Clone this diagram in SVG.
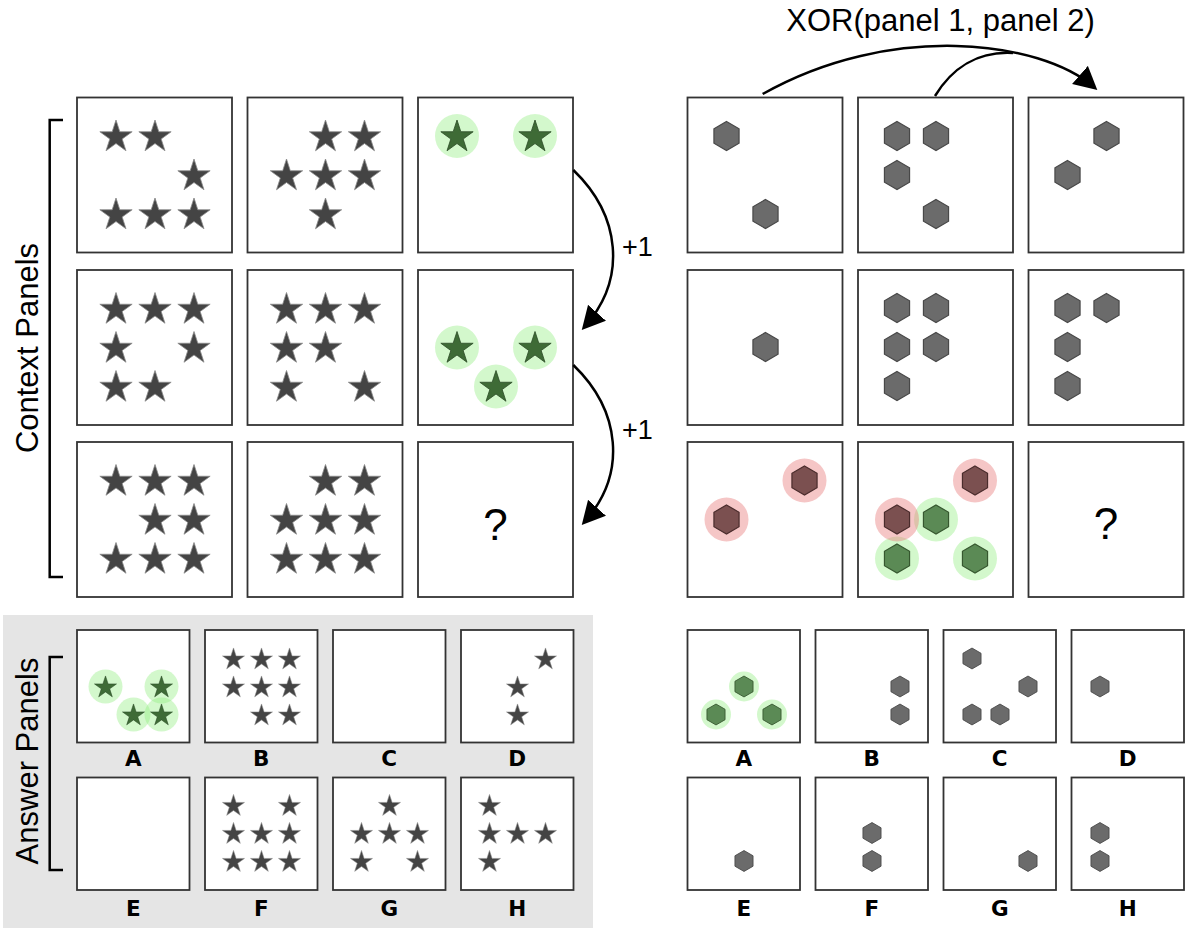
<svg xmlns="http://www.w3.org/2000/svg" width="1200" height="938" viewBox="0 0 1200 938">
<style>
.pn{fill:#fff;stroke:#333;stroke-width:1.8}
.st{fill:#444;stroke:#8a8a8a;stroke-width:0.8}
.gst{fill:#3e6b36;stroke:#2b4a26;stroke-width:0.8}
.hx{fill:#6b6b6b;stroke:#484848;stroke-width:1.2}
.rhx{fill:#7b5050;stroke:#4a2c2c;stroke-width:1.2}
.ghx{fill:#5b8a55;stroke:#36572f;stroke-width:1.2}
.gc{fill:#90ee80;fill-opacity:0.4}
.rc{fill:#e88080;fill-opacity:0.45}
.lbl{font-family:"DejaVu Sans","Liberation Sans",sans-serif;font-weight:bold;font-size:21.5px;fill:#000;text-anchor:middle}
.t{font-family:"Liberation Sans",Arial,sans-serif;fill:#000}
.q{font-family:"Liberation Sans",Arial,sans-serif;font-size:44px;text-anchor:middle;fill:#000}
.con{fill:none;stroke:#000;stroke-width:2.5}
.br{fill:none;stroke:#000;stroke-width:2.5}
</style>
<defs>
<path id="star" d="M0,-17 L3.82,-5.26 L16.17,-5.25 L6.18,2.01 L9.99,13.75 L0,6.5 L-9.99,13.75 L-6.18,2.01 L-16.17,-5.25 L-3.82,-5.26 Z"/>
<g id="starS" transform="scale(0.68)"><use href="#star"/></g>
<path id="hex" d="M0,-14.5 L12.56,-7.25 L12.56,7.25 L0,14.5 L-12.56,7.25 L-12.56,-7.25 Z"/>
<g id="hexS" transform="scale(0.72)"><use href="#hex"/></g>
<marker id="ah" markerUnits="userSpaceOnUse" markerWidth="26" markerHeight="26" refX="19" refY="12" orient="auto"><path d="M0,0 L23,12 L0,24 Z" fill="#000"/></marker>
</defs>

<!-- answer area background -->
<rect x="3" y="615" width="590" height="313" fill="#e5e5e5"/>

<!-- side labels and brackets -->
<g id="label-context">
<text class="t" font-size="31" text-anchor="middle" transform="translate(38.3,348) rotate(-90)">Context Panels</text>
<path class="br" d="M63,120 H49.7 V577 H63"/>
</g>
<g id="label-answer">
<text class="t" font-size="31" text-anchor="middle" transform="translate(38.3,761) rotate(-90)">Answer Panels</text>
<path class="br" d="M63,657 H49.7 V870 H63"/>
</g>

<!-- left context panels -->
<g id="L11"><rect class="pn" x="77" y="97.5" width="155" height="155"/>
<use href="#star" class="st" x="116" y="137"/><use href="#star" class="st" x="155" y="137"/><use href="#star" class="st" x="194" y="176"/>
<use href="#star" class="st" x="116" y="215"/><use href="#star" class="st" x="155" y="215"/><use href="#star" class="st" x="194" y="215"/></g>
<g id="L12"><rect class="pn" x="247.5" y="97.5" width="155" height="155"/>
<use href="#star" class="st" x="325.5" y="137"/><use href="#star" class="st" x="364.5" y="137"/>
<use href="#star" class="st" x="286.5" y="176"/><use href="#star" class="st" x="325.5" y="176"/><use href="#star" class="st" x="364.5" y="176"/>
<use href="#star" class="st" x="325.5" y="215"/></g>
<g id="L13"><rect class="pn" x="418" y="97.5" width="155" height="155"/>
<circle class="gc" cx="457" cy="136" r="22"/><circle class="gc" cx="535" cy="136" r="22"/>
<use href="#star" class="gst" x="457" y="137"/><use href="#star" class="gst" x="535" y="137"/></g>

<g id="L21"><rect class="pn" x="77" y="270" width="155" height="155"/>
<use href="#star" class="st" x="116" y="309.5"/><use href="#star" class="st" x="155" y="309.5"/><use href="#star" class="st" x="194" y="309.5"/>
<use href="#star" class="st" x="116" y="348.5"/><use href="#star" class="st" x="194" y="348.5"/>
<use href="#star" class="st" x="116" y="387.5"/><use href="#star" class="st" x="155" y="387.5"/></g>
<g id="L22"><rect class="pn" x="247.5" y="270" width="155" height="155"/>
<use href="#star" class="st" x="286.5" y="309.5"/><use href="#star" class="st" x="325.5" y="309.5"/><use href="#star" class="st" x="364.5" y="309.5"/>
<use href="#star" class="st" x="286.5" y="348.5"/><use href="#star" class="st" x="325.5" y="348.5"/>
<use href="#star" class="st" x="286.5" y="387.5"/><use href="#star" class="st" x="364.5" y="387.5"/></g>
<g id="L23"><rect class="pn" x="418" y="270" width="155" height="155"/>
<circle class="gc" cx="457" cy="347.5" r="22"/><circle class="gc" cx="535" cy="347.5" r="22"/><circle class="gc" cx="496" cy="386.5" r="22"/>
<use href="#star" class="gst" x="457" y="348.5"/><use href="#star" class="gst" x="535" y="348.5"/><use href="#star" class="gst" x="496" y="387.5"/></g>

<g id="L31"><rect class="pn" x="77" y="442" width="155" height="155"/>
<use href="#star" class="st" x="116" y="481.5"/><use href="#star" class="st" x="155" y="481.5"/><use href="#star" class="st" x="194" y="481.5"/>
<use href="#star" class="st" x="155" y="520.5"/><use href="#star" class="st" x="194" y="520.5"/>
<use href="#star" class="st" x="116" y="559.5"/><use href="#star" class="st" x="155" y="559.5"/><use href="#star" class="st" x="194" y="559.5"/></g>
<g id="L32"><rect class="pn" x="247.5" y="442" width="155" height="155"/>
<use href="#star" class="st" x="325.5" y="481.5"/><use href="#star" class="st" x="364.5" y="481.5"/>
<use href="#star" class="st" x="286.5" y="520.5"/><use href="#star" class="st" x="325.5" y="520.5"/><use href="#star" class="st" x="364.5" y="520.5"/>
<use href="#star" class="st" x="286.5" y="559.5"/><use href="#star" class="st" x="325.5" y="559.5"/><use href="#star" class="st" x="364.5" y="559.5"/></g>
<g id="L33"><rect class="pn" x="418" y="442" width="155" height="155"/>
<text class="q" x="495.5" y="540">?</text></g>

<!-- right context panels -->
<g id="R11"><rect class="pn" x="687.5" y="97.5" width="155" height="155"/>
<use href="#hex" class="hx" x="726.5" y="136"/><use href="#hex" class="hx" x="765.5" y="214"/></g>
<g id="R12"><rect class="pn" x="858" y="97.5" width="155" height="155"/>
<use href="#hex" class="hx" x="897" y="136"/><use href="#hex" class="hx" x="936" y="136"/>
<use href="#hex" class="hx" x="897" y="175"/><use href="#hex" class="hx" x="936" y="214"/></g>
<g id="R13"><rect class="pn" x="1028.5" y="97.5" width="155" height="155"/>
<use href="#hex" class="hx" x="1106.5" y="136"/><use href="#hex" class="hx" x="1067.5" y="175"/></g>

<g id="R21"><rect class="pn" x="687.5" y="270" width="155" height="155"/>
<use href="#hex" class="hx" x="765.5" y="347"/></g>
<g id="R22"><rect class="pn" x="858" y="270" width="155" height="155"/>
<use href="#hex" class="hx" x="897" y="308"/><use href="#hex" class="hx" x="936" y="308"/>
<use href="#hex" class="hx" x="897" y="347"/><use href="#hex" class="hx" x="936" y="347"/>
<use href="#hex" class="hx" x="897" y="386"/></g>
<g id="R23"><rect class="pn" x="1028.5" y="270" width="155" height="155"/>
<use href="#hex" class="hx" x="1067.5" y="308"/><use href="#hex" class="hx" x="1106.5" y="308"/>
<use href="#hex" class="hx" x="1067.5" y="347"/><use href="#hex" class="hx" x="1067.5" y="386"/></g>

<g id="R31"><rect class="pn" x="687.5" y="442" width="155" height="155"/>
<circle class="rc" cx="804.5" cy="480.5" r="22"/><circle class="rc" cx="726.5" cy="519.5" r="22"/>
<use href="#hex" class="rhx" x="804.5" y="480.5"/><use href="#hex" class="rhx" x="726.5" y="519.5"/></g>
<g id="R32"><rect class="pn" x="858" y="442" width="155" height="155"/>
<circle class="rc" cx="975" cy="480.5" r="22"/><circle class="gc" cx="936" cy="519.5" r="22"/>
<circle class="gc" cx="897" cy="558.5" r="22"/><circle class="gc" cx="975" cy="558.5" r="22"/>
<circle class="rc" cx="897" cy="519.5" r="22"/>
<use href="#hex" class="rhx" x="975" y="480.5"/><use href="#hex" class="rhx" x="897" y="519.5"/>
<use href="#hex" class="ghx" x="936" y="519.5"/><use href="#hex" class="ghx" x="897" y="558.5"/><use href="#hex" class="ghx" x="975" y="558.5"/></g>
<g id="R33"><rect class="pn" x="1028.5" y="442" width="155" height="155"/>
<text class="q" x="1106" y="539">?</text></g>

<!-- left answer panels -->
<g id="AL-A"><rect class="pn" x="77" y="630" width="112.5" height="112.5"/>
<circle class="gc" cx="105.5" cy="686.5" r="17"/><circle class="gc" cx="161.5" cy="686.5" r="17"/>
<circle class="gc" cx="133.5" cy="714.5" r="17"/><circle class="gc" cx="161.5" cy="714.5" r="17"/>
<use href="#starS" class="gst" x="105.5" y="687.5"/><use href="#starS" class="gst" x="161.5" y="687.5"/>
<use href="#starS" class="gst" x="133.5" y="715.5"/><use href="#starS" class="gst" x="161.5" y="715.5"/>
<text class="lbl" x="133.25" y="766">A</text></g>
<g id="AL-B"><rect class="pn" x="205" y="630" width="112.5" height="112.5"/>
<use href="#starS" class="st" x="233.5" y="659.5"/><use href="#starS" class="st" x="261.5" y="659.5"/><use href="#starS" class="st" x="289.5" y="659.5"/>
<use href="#starS" class="st" x="233.5" y="687.5"/><use href="#starS" class="st" x="261.5" y="687.5"/><use href="#starS" class="st" x="289.5" y="687.5"/>
<use href="#starS" class="st" x="261.5" y="715.5"/><use href="#starS" class="st" x="289.5" y="715.5"/>
<text class="lbl" x="261.25" y="766">B</text></g>
<g id="AL-C"><rect class="pn" x="333" y="630" width="112.5" height="112.5"/>
<text class="lbl" x="389.25" y="766">C</text></g>
<g id="AL-D"><rect class="pn" x="461" y="630" width="112.5" height="112.5"/>
<use href="#starS" class="st" x="545.5" y="659.5"/><use href="#starS" class="st" x="517.5" y="687.5"/><use href="#starS" class="st" x="517.5" y="715.5"/>
<text class="lbl" x="517.25" y="766">D</text></g>
<g id="AL-E"><rect class="pn" x="77" y="777.5" width="112.5" height="112.5"/>
<text class="lbl" x="133.25" y="916">E</text></g>
<g id="AL-F"><rect class="pn" x="205" y="777.5" width="112.5" height="112.5"/>
<use href="#starS" class="st" x="233.5" y="806"/><use href="#starS" class="st" x="289.5" y="806"/>
<use href="#starS" class="st" x="233.5" y="834"/><use href="#starS" class="st" x="261.5" y="834"/><use href="#starS" class="st" x="289.5" y="834"/>
<use href="#starS" class="st" x="233.5" y="862"/><use href="#starS" class="st" x="261.5" y="862"/><use href="#starS" class="st" x="289.5" y="862"/>
<text class="lbl" x="261.25" y="916">F</text></g>
<g id="AL-G"><rect class="pn" x="333" y="777.5" width="112.5" height="112.5"/>
<use href="#starS" class="st" x="389.5" y="806"/>
<use href="#starS" class="st" x="361.5" y="834"/><use href="#starS" class="st" x="389.5" y="834"/><use href="#starS" class="st" x="417.5" y="834"/>
<use href="#starS" class="st" x="361.5" y="862"/><use href="#starS" class="st" x="417.5" y="862"/>
<text class="lbl" x="389.25" y="916">G</text></g>
<g id="AL-H"><rect class="pn" x="461" y="777.5" width="112.5" height="112.5"/>
<use href="#starS" class="st" x="489.5" y="806"/>
<use href="#starS" class="st" x="489.5" y="834"/><use href="#starS" class="st" x="517.5" y="834"/><use href="#starS" class="st" x="545.5" y="834"/>
<use href="#starS" class="st" x="489.5" y="862"/>
<text class="lbl" x="517.25" y="916">H</text></g>

<!-- right answer panels -->
<g id="AR-A"><rect class="pn" x="687.5" y="630" width="112.5" height="112.5"/>
<circle class="gc" cx="744" cy="686.5" r="15"/><circle class="gc" cx="716" cy="714.5" r="15"/><circle class="gc" cx="772" cy="714.5" r="15"/>
<use href="#hexS" class="ghx" x="744" y="686.5"/><use href="#hexS" class="ghx" x="716" y="714.5"/><use href="#hexS" class="ghx" x="772" y="714.5"/>
<text class="lbl" x="743.75" y="766">A</text></g>
<g id="AR-B"><rect class="pn" x="815.5" y="630" width="112.5" height="112.5"/>
<use href="#hexS" class="hx" x="900" y="686.5"/><use href="#hexS" class="hx" x="900" y="714.5"/>
<text class="lbl" x="871.75" y="766">B</text></g>
<g id="AR-C"><rect class="pn" x="943.5" y="630" width="112.5" height="112.5"/>
<use href="#hexS" class="hx" x="972" y="658.5"/><use href="#hexS" class="hx" x="1028" y="686.5"/>
<use href="#hexS" class="hx" x="972" y="714.5"/><use href="#hexS" class="hx" x="1000" y="714.5"/>
<text class="lbl" x="999.75" y="766">C</text></g>
<g id="AR-D"><rect class="pn" x="1071.5" y="630" width="112.5" height="112.5"/>
<use href="#hexS" class="hx" x="1100" y="686.5"/>
<text class="lbl" x="1127.75" y="766">D</text></g>
<g id="AR-E"><rect class="pn" x="687.5" y="777.5" width="112.5" height="112.5"/>
<use href="#hexS" class="hx" x="744" y="861"/>
<text class="lbl" x="743.75" y="916">E</text></g>
<g id="AR-F"><rect class="pn" x="815.5" y="777.5" width="112.5" height="112.5"/>
<use href="#hexS" class="hx" x="872" y="833"/><use href="#hexS" class="hx" x="872" y="861"/>
<text class="lbl" x="871.75" y="916">F</text></g>
<g id="AR-G"><rect class="pn" x="943.5" y="777.5" width="112.5" height="112.5"/>
<use href="#hexS" class="hx" x="1028" y="861"/>
<text class="lbl" x="999.75" y="916">G</text></g>
<g id="AR-H"><rect class="pn" x="1071.5" y="777.5" width="112.5" height="112.5"/>
<use href="#hexS" class="hx" x="1100" y="833"/><use href="#hexS" class="hx" x="1100" y="861"/>
<text class="lbl" x="1127.75" y="916">H</text></g>

<!-- connectors -->
<g id="connectors">
<path class="con" d="M573.3,170 C620,215 628,278 584.4,327" marker-end="url(#ah)"/>
<path class="con" d="M573.3,365 C620,410 628,473 584.4,522" marker-end="url(#ah)"/>
<text class="t" font-size="27" x="622" y="256">+1</text>
<text class="t" font-size="27" x="622" y="439">+1</text>
<path class="con" d="M762.7,94 C890,22 1040,40 1094.3,87.4" marker-end="url(#ah)"/>
<path class="con" d="M935,96 C952,68 978,51 1013,53"/>
<text class="t" font-size="31" text-anchor="middle" x="940.5" y="31">XOR(panel 1, panel 2)</text>
</g>
</svg>
